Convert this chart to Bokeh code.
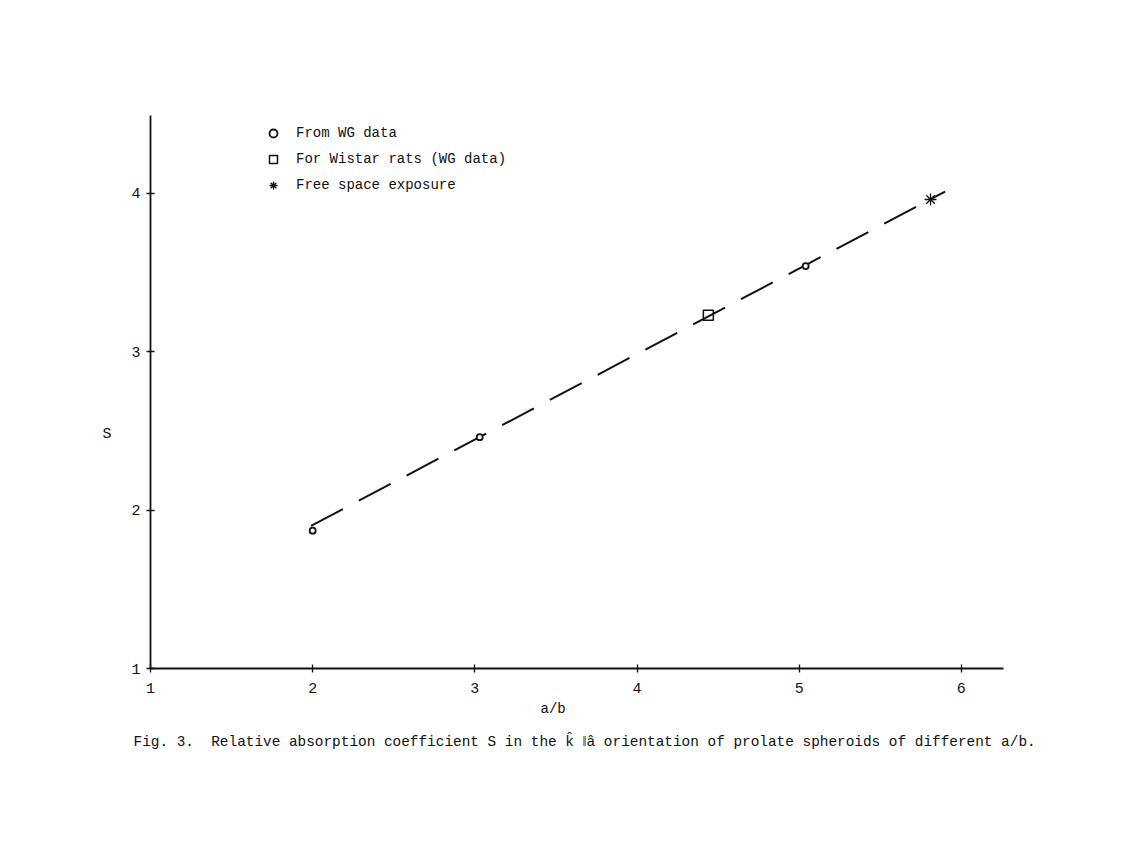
from bokeh.plotting import figure
from bokeh.models import Range1d, Legend, LegendItem, FixedTicker, Title
from bokeh.embed import file_html
from bokeh.resources import INLINE

# ---- data ----
wg_x = [2.0, 3.03, 5.04]
wg_y = [1.87, 2.46, 3.54]
wistar_x = [4.44]
wistar_y = [3.23]
free_x = [5.81]
free_y = [3.96]
fit_x = [1.99, 5.90]
fit_y = [1.90, 4.01]
x_ticks = [1, 2, 3, 4, 5, 6]
y_ticks = [1, 2, 3, 4]
legend_labels = ["From WG data", "For Wistar rats (WG data)", "Free space exposure"]
x_title = "a/b"
y_title = "S"
caption = "Fig. 3.\u00a0\u00a0Relative absorption coefficient S in the k\u0302 \u2016a\u0302 orientation of prolate spheroids of different a/b."

FONT = "Liberation Mono"
INK = "#111111"

p = figure(width=1110, height=830, output_backend="svg", toolbar_location=None,
           x_range=Range1d(1, 6.26), y_range=Range1d(1, 4.49),
           min_border_left=150, min_border_right=107, min_border_top=115, min_border_bottom=162)
p.outline_line_color = None
p.background_fill_color = "white"
p.border_fill_color = "white"
p.xgrid.visible = False
p.ygrid.visible = False

for ax in (p.xaxis[0], p.yaxis[0]):
    ax.axis_line_color = INK
    ax.axis_line_width = 1.8
    ax.major_tick_line_color = INK
    ax.major_tick_line_width = 1.3
    ax.major_tick_in = 4
    ax.major_tick_out = 4
    ax.minor_tick_line_color = None
    ax.major_label_text_font = FONT
    ax.major_label_text_font_size = "15px"
    ax.major_label_text_color = INK
p.xaxis[0].ticker = FixedTicker(ticks=x_ticks)
p.yaxis[0].ticker = FixedTicker(ticks=y_ticks)
p.xaxis[0].major_label_standoff = 10
p.yaxis[0].major_label_standoff = 6

# the "S" sits below the middle of the axis in the original: pad with blank lines above it
p.yaxis[0].axis_label = "\u00a0\n\u00a0\n\u00a0\n\u00a0\n\u00a0\n" + y_title
p.yaxis[0].axis_label_orientation = "horizontal"
p.yaxis[0].axis_label_standoff = 17
p.yaxis[0].axis_label_text_font = FONT
p.yaxis[0].axis_label_text_font_style = "normal"
p.yaxis[0].axis_label_text_font_size = "15px"
p.yaxis[0].axis_label_text_color = INK
p.yaxis[0].axis_label_text_line_height = 1.0

# fitted dashed line
p.line(fit_x, fit_y, line_color=INK, line_width=2, line_dash="36 18")

r1 = p.scatter(wg_x, wg_y, marker="circle", size=6, line_color=INK, line_width=1.8, fill_color="white")
r2 = p.scatter(wistar_x, wistar_y, marker="square", size=10, line_color=INK, line_width=1.5, fill_color=None)
r3 = p.scatter(free_x, free_y, marker="asterisk", size=12, line_color=INK, line_width=1.3)

legend = Legend(items=[LegendItem(label=legend_labels[0], renderers=[r1]),
                       LegendItem(label=legend_labels[1], renderers=[r2]),
                       LegendItem(label=legend_labels[2], renderers=[r3])],
                location=(113, 473), orientation="vertical",
                background_fill_alpha=0, border_line_color=None,
                padding=0, margin=0, spacing=6, label_height=20, glyph_height=20, glyph_width=20,
                label_standoff=13, label_text_font=FONT, label_text_font_size="14px",
                label_text_color=INK)
p.add_layout(legend)

t1 = Title(text=x_title, align="left", offset=390, standoff=7, text_font=FONT,
           text_font_size="14px", text_font_style="normal", text_color=INK)
p.add_layout(t1, "below")
t2 = Title(text=caption, align="left", offset=-17, standoff=22, text_font=FONT,
           text_font_size="14.4px", text_font_style="normal", text_color=INK)
p.add_layout(t2, "below")

open("out.html", "w").write(file_html(p, INLINE))
